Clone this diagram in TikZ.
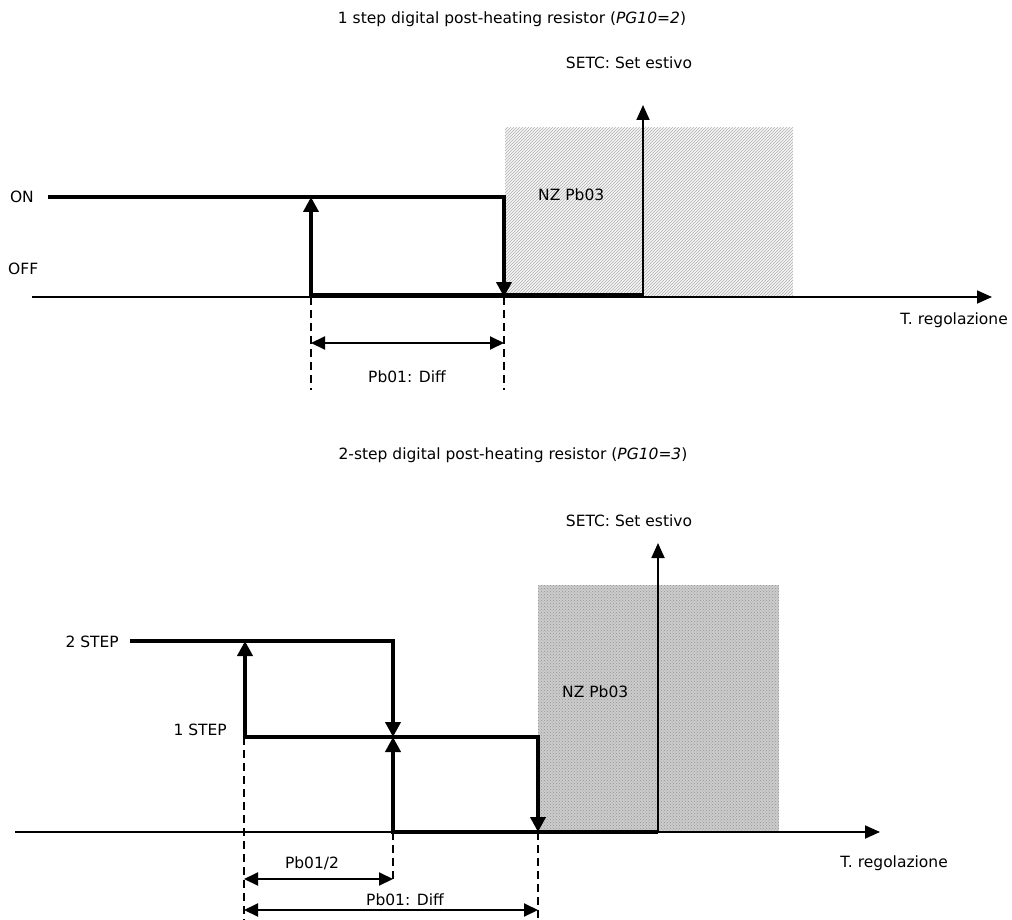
\documentclass[tikz,border=0pt]{standalone}
\usepackage{fontspec}
\setmainfont{DejaVu Sans}
\usetikzlibrary{arrows.meta,patterns,positioning}

\begin{document}
\begin{tikzpicture}[x=1pt,y=-1pt,>=Latex,font=\fontsize{15.5}{18}\selectfont]
  \tikzstyle{signal}=[line width=4.3pt,-{Triangle[length=15pt,width=15pt]}]
  \tikzstyle{signalboth}=[line width=4.3pt,{Triangle[length=15pt,width=15pt]}-{Triangle[length=15pt,width=15pt]}]
  \tikzstyle{axisline}=[line width=1.8pt,-{Triangle[length=15pt,width=13pt]}]
  \tikzstyle{guide}=[line width=1.8pt,dash pattern=on 8pt off 5pt]
  \tikzstyle{dimline}=[line width=2pt,{Triangle[length=14pt,width=13pt]}-{Triangle[length=14pt,width=13pt]}]
  \tikzstyle{lbl}=[inner sep=0pt]
  \useasboundingbox (0,0) rectangle (1012,920);

  % 1 step
  \node[lbl] (title1) at (512,19) {1 step digital post-heating resistor (\textit{PG10=2})};
  \fill[gray!8] (505,128) rectangle (793,297);
  \fill[pattern=north east lines,pattern color=gray!60] (505,128) rectangle (793,297);
  \node[lbl] (setc1) at (629,63) {SETC: Set estivo};
  \node[lbl,anchor=west] (nz1) at (538,195) {NZ Pb03};
  \coordinate (xa0) at (32,297);   \coordinate (xa1) at (992,297);
  \coordinate (ya0) at (643,297);  \coordinate (ya1) at (643,105);
  \draw[axisline] (xa0) -- (xa1);
  \draw[axisline] (ya0) -- (ya1);
  \node[lbl,anchor=east] (treg1) at (1008,320) {T. regolazione};
  \node[lbl,anchor=east] (on) at (34,197) {ON};
  \node[lbl,anchor=west] (off) at (8,269) {OFF};

  \coordinate (on0) at (48,197);  \coordinate (on1) at (504,197);
  \coordinate (off1) at (504,297);
  \coordinate (low0) at (311,295); \coordinate (low1) at (643,295);
  \coordinate (up1) at (311,197);
  \draw[signal] (on0) -- (on1) -- (off1);
  \draw[signal] (low1) -- (low0) -- (up1);

  \coordinate (d1a) at (311,297); \coordinate (d1b) at (311,390);
  \coordinate (d2a) at (504,297); \coordinate (d2b) at (504,390);
  \draw[guide] (d1a) -- (d1b);
  \draw[guide] (d2a) -- (d2b);
  \coordinate (w1a) at (311,343); \coordinate (w1b) at (504,343);
  \draw[dimline] (w1a) -- (w1b);
  \node[lbl] (diff1) at (407,377) {Pb01: Diff};

  % 2 step
  \node[lbl] (title2) at (513,455) {2-step digital post-heating resistor (\textit{PG10=3})};
  \fill[gray!40] (538,585) rectangle (779,832);
  \fill[pattern=crosshatch dots,pattern color=gray!85] (538,585) rectangle (779,832);
  \node[lbl] (setc2) at (629,521) {SETC: Set estivo};
  \node[lbl,anchor=west] (nz2) at (562,692) {NZ Pb03};
  \coordinate (xb0) at (15,832);   \coordinate (xb1) at (880,832);
  \coordinate (yb0) at (658,832);  \coordinate (yb1) at (658,543);
  \draw[axisline] (xb0) -- (xb1);
  \draw[axisline] (yb0) -- (yb1);
  \node[lbl,anchor=east] (treg2) at (948,863) {T. regolazione};
  \node[lbl,anchor=east] (step2) at (119,642) {2 STEP};
  \node[lbl,anchor=east] (step1) at (227,730) {1 STEP};

  \coordinate (s2a) at (130,641); \coordinate (s2b) at (393,641);
  \coordinate (s2c) at (393,737);
  \coordinate (s1a) at (245,641); \coordinate (s1b) at (245,737);
  \coordinate (s1c) at (538,737); \coordinate (s1d) at (538,832);
  \coordinate (s0a) at (658,832); \coordinate (s0b) at (393,832);
  \coordinate (s0c) at (393,737);
  \draw[signal] (s2a) -- (s2b) -- (s2c);
  \draw[signalboth] (s1a) -- (s1b) -- (s1c) -- (s1d);
  \draw[signal] (s0a) -- (s0b) -- (s0c);

  \coordinate (g1a) at (244,737); \coordinate (g1b) at (244,920);
  \coordinate (g2a) at (393,832); \coordinate (g2b) at (393,882);
  \coordinate (g3a) at (538,832); \coordinate (g3b) at (538,920);
  \draw[guide] (g1a) -- (g1b);
  \draw[guide] (g2a) -- (g2b);
  \draw[guide] (g3a) -- (g3b);
  \coordinate (h1a) at (244,879); \coordinate (h1b) at (393,879);
  \coordinate (h2a) at (244,910); \coordinate (h2b) at (538,910);
  \draw[dimline] (h1a) -- (h1b);
  \draw[dimline] (h2a) -- (h2b);
  \node[lbl] (half) at (312,863) {Pb01/2};
  \node[lbl] (diff2) at (405,900) {Pb01: Diff};
\end{tikzpicture}
\end{document}
